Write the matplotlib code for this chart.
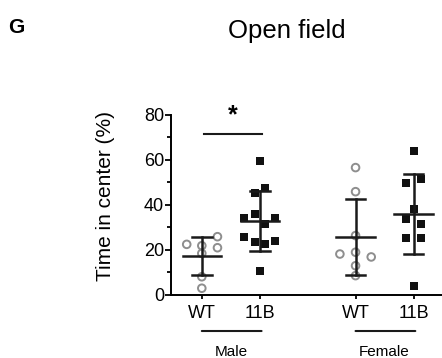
import numpy as np
import matplotlib
matplotlib.use("Agg")
import matplotlib.pyplot as plt
from matplotlib.ticker import MultipleLocator

plt.rcParams['font.family'] = ['Liberation Sans', 'DejaVu Sans']

# values (time in center, %)
male_wt = [22.5, 21.9, 25.9, 21.0, 18.5, 8.1, 3.0]
male_11b = [59.7, 45.5, 47.7, 36.0, 34.4, 34.4, 31.6, 25.6, 23.4, 22.7, 24.1, 10.7]
female_wt = [56.6, 45.9, 26.4, 19.0, 18.2, 16.9, 13.0, 8.6]
female_11b = [64.1, 49.6, 51.4, 38.2, 33.8, 31.6, 25.2, 25.2, 4.1]

# horizontal offset of each point from its group centre
male_wt_dx = [-0.26, 0, 0.27, 0.27, 0, 0, 0]
male_11b_dx = [0, -0.08, 0.09, -0.08, -0.27, 0.27, 0.09, -0.27, -0.08, 0.09, 0.27, 0]
female_wt_dx = [0, 0, 0, 0, -0.27, 0.27, 0, 0]
female_11b_dx = [0, -0.13, 0.13, 0, -0.13, 0.13, -0.13, 0.13, 0]

tick_labels = ["WT", "11B", "WT", "11B"]
groups = ["Male", "Female"]
positions = [0, 1, 2.65, 3.65]

fig = plt.figure(figsize=(4.42, 3.58), dpi=100)
ax = fig.add_axes([0.387, 0.176, 0.613, 0.503])

gray = "#8e8e8e"
series = [(male_wt, male_wt_dx, "wt"), (male_11b, male_11b_dx, "ko"),
          (female_wt, female_wt_dx, "wt"), (female_11b, female_11b_dx, "ko")]

for pos, (vals, dx, kind) in zip(positions, series):
    vals = np.array(vals)
    xs = pos + np.array(dx)
    if kind == "wt":
        ax.scatter(xs, vals, s=30, facecolors="none", edgecolors=gray,
                   linewidths=1.4, zorder=2, clip_on=False)
    else:
        ax.scatter(xs, vals, s=34, marker="s", color="#111111",
                   linewidths=0, zorder=2, clip_on=False)
    # mean +/- SD
    m = vals.mean()
    sd = vals.std(ddof=1)
    ax.plot([pos - 0.33, pos + 0.33], [m, m], color="#1a1a1a", lw=1.8, zorder=3)
    ax.plot([pos, pos], [m - sd, m + sd], color="#1a1a1a", lw=1.8, zorder=3)
    for y in (m - sd, m + sd):
        ax.plot([pos - 0.17, pos + 0.17], [y, y], color="#1a1a1a", lw=1.8, zorder=3)

ax.set_xlim(-0.53, 4.14)
ax.set_ylim(0, 80)
ax.set_xticks(positions)
ax.set_xticklabels(tick_labels, fontsize=13)
ax.set_yticks([0, 20, 40, 60, 80])
ax.yaxis.set_minor_locator(MultipleLocator(10))
ax.tick_params(axis="y", labelsize=13, length=4, width=1.3, pad=1)
ax.tick_params(axis="y", which="minor", length=3, width=1.3)
ax.tick_params(axis="x", length=3, width=1.3, pad=4)
for s in ("top", "right"):
    ax.spines[s].set_visible(False)
for s in ("left", "bottom"):
    ax.spines[s].set_linewidth(1.4)
ax.set_ylabel("Time in center (%)", fontsize=15)
ax.yaxis.set_label_coords(-0.207, 0.55)

# significance bar
ax.plot([positions[0] + 0.03, positions[1] + 0.03], [71.6, 71.6], color="#1a1a1a",
        lw=1.5, clip_on=False)
ax.text((positions[0] + positions[1]) / 2 + 0.03, 74.5, "*", fontsize=18,
        ha="center", va="bottom", fontweight="bold", clip_on=False)

# group labels below the axis
for i, g in enumerate(groups):
    a, b = positions[2 * i], positions[2 * i + 1]
    ax.annotate("", xy=(a, -16), xytext=(b + 0.03, -16), xycoords="data",
                arrowprops=dict(arrowstyle="-", lw=1.5, color="#1a1a1a",
                                shrinkA=0, shrinkB=0), annotation_clip=False)
    ax.text((a + b) / 2, -27, g, fontsize=11, ha="center", va="baseline", clip_on=False)

fig.text(0.018, 0.908, "G", fontsize=15, fontweight="bold", ha="left", va="baseline")
fig.text(0.649, 0.894, "Open field", fontsize=18.5, ha="center", va="baseline")

fig.savefig("out.png", dpi=100)
